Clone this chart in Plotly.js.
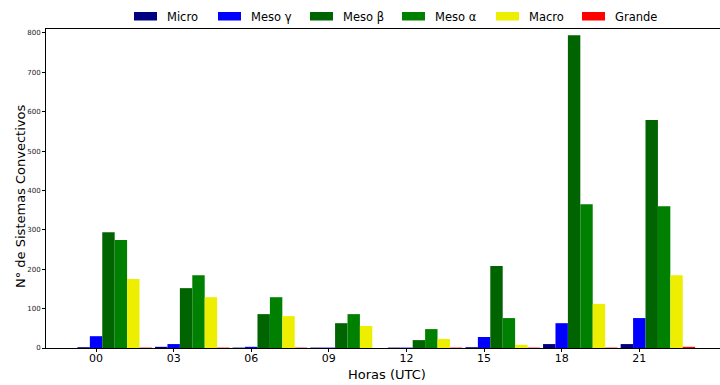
<!DOCTYPE html>
<html>
<head>
<meta charset="utf-8">
<script src="https://cdn.plot.ly/plotly-3.0.1.min.js"></script>
<style>
  html, body { margin: 0; padding: 0; background: #ffffff; }
  #chart { width: 720px; height: 385px; }
</style>
</head>
<body>
<div id="chart"></div>
<script>
// ---- data ----
const hours  = ['00', '03', '06', '09', '12', '15', '18', '21'];
const seriesNames = ['Micro', 'Meso γ', 'Meso β', 'Meso α', 'Macro', 'Grande'];
const micro  = [2, 3, 1, 1, 1, 2, 10, 10];
const mesoG  = [30, 10, 3, 1, 1, 28, 63, 76];
const mesoB  = [294, 152, 86, 63, 20, 208, 794, 579];
const mesoA  = [274, 185, 129, 86, 48, 76, 365, 360];
const macro  = [175, 129, 81, 56, 23, 8, 112, 185];
const grande = [1, 1, 1, 0, 1, 1, 1, 3];
const yTicks = [0, 100, 200, 300, 400, 500, 600, 700, 800];
const xTitle = 'Horas (UTC)';
const yTitle = 'N° de Sistemas Convectivos';

// ---- styling ----
const colors = ['#000080', '#0000ff', '#006400', '#008000', '#eeee00', '#ff0000'];
const allSeries = [micro, mesoG, mesoB, mesoA, macro, grande];
const barW = 0.16;
const xPos = hours.map((h, i) => i);

const traces = allSeries.map((vals, k) => ({
  type: 'bar',
  name: seriesNames[k],
  x: xPos,
  y: vals,
  width: barW,
  offset: (k - 1.5) * barW,
  marker: { color: colors[k], line: { width: 0 } },
  showlegend: false,
  hoverinfo: 'x+y+name'
}));

// custom legend (wide swatches like the reference)
const plotLeft = 46, plotW = 674, plotTop = 29, plotH = 319;
const legendX = [134, 218, 310, 402, 496, 582];
const pxToPaperX = px => (px - plotLeft) / plotW;
const pyToPaperY = py => (plotTop + plotH - py) / plotH;
const shapes = [];
const annotations = [];
seriesNames.forEach((nm, k) => {
  shapes.push({
    type: 'rect', xref: 'paper', yref: 'paper',
    x0: pxToPaperX(legendX[k]), x1: pxToPaperX(legendX[k] + 23),
    y0: pyToPaperY(20.5), y1: pyToPaperY(12),
    fillcolor: colors[k], line: { width: 0 }
  });
  annotations.push({
    xref: 'paper', yref: 'paper',
    x: pxToPaperX(legendX[k] + 31), y: pyToPaperY(16.5),
    xanchor: 'left', yanchor: 'middle',
    text: nm, showarrow: false,
    font: { family: 'DejaVu Sans', size: 11.5, color: '#000' }
  });
});
// axis titles
annotations.push({
  xref: 'paper', yref: 'paper',
  x: pxToPaperX(20), y: pyToPaperY(197),
  xanchor: 'center', yanchor: 'middle',
  textangle: -90,
  text: yTitle, showarrow: false,
  font: { family: 'DejaVu Sans', size: 13, color: '#000' }
});
annotations.push({
  xref: 'paper', yref: 'paper',
  x: pxToPaperX(386.5), y: pyToPaperY(374),
  xanchor: 'center', yanchor: 'middle',
  text: xTitle, showarrow: false,
  font: { family: 'DejaVu Sans', size: 13, color: '#000' }
});

const layout = {
  width: 720,
  height: 385,
  margin: { l: plotLeft, r: 0, t: plotTop, b: 37, pad: 0 },
  paper_bgcolor: '#ffffff',
  plot_bgcolor: '#ffffff',
  font: { family: 'DejaVu Sans', color: '#000' },
  barmode: 'overlay',
  xaxis: {
    range: [-0.645, 8.04],
    tickmode: 'array',
    tickvals: xPos,
    ticktext: hours,
    ticks: 'outside', ticklen: 3, tickwidth: 1, tickcolor: '#000',
    ticklabelstandoff: -3,
    tickfont: { family: 'DejaVu Sans', size: 11, color: '#000' },
    showgrid: false, zeroline: false,
    showline: true, linecolor: '#000', linewidth: 1, mirror: true
  },
  yaxis: {
    range: [0, 810],
    tickmode: 'array',
    tickvals: yTicks,
    ticks: 'outside', ticklen: 3, tickwidth: 1, tickcolor: '#000',
    tickfont: { family: 'DejaVu Sans', size: 7, color: '#222' },
    showgrid: false, zeroline: false,
    showline: true, linecolor: '#000', linewidth: 1, mirror: true
  },
  shapes: shapes,
  annotations: annotations
};

Plotly.newPlot('chart', traces, layout, { displayModeBar: false, staticPlot: true });
</script>
</body>
</html>
